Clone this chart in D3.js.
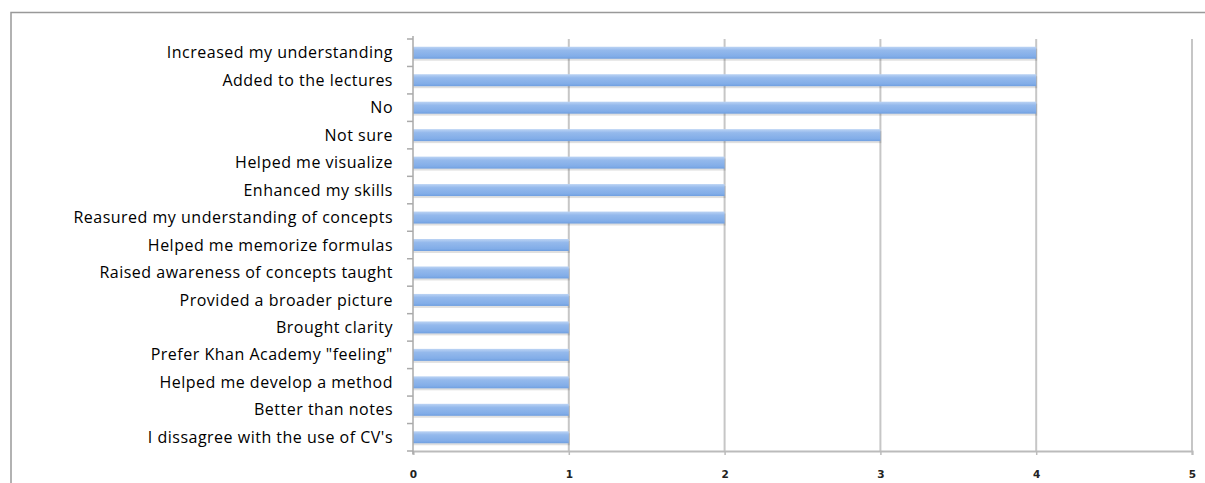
<!DOCTYPE html>
<html>
<head>
<meta charset="utf-8">
<script src="https://cdn.jsdelivr.net/npm/d3@7"></script>
<style>
    body { margin: 0; background: #fff; }
    svg { display: block; }
</style>
</head>
<body>
<div id="chart"></div>
<script>
// answers, top to bottom
const answers = [
    'Increased my understanding',
    'Added to the lectures',
    'No',
    'Not sure',
    'Helped me visualize',
    'Enhanced my skills',
    'Reasured my understanding of concepts',
    'Helped me memorize formulas',
    'Raised awareness of concepts taught',
    'Provided a broader picture',
    'Brought clarity',
    'Prefer Khan Academy "feeling"',
    'Helped me develop a method',
    'Better than notes',
    'I dissagree with the use of CV\'s'
];
const counts = [4, 4, 4, 3, 2, 2, 2, 1, 1, 1, 1, 1, 1, 1, 1];
const xTicks = [0, 1, 2, 3, 4, 5];

const width = 1205;
const height = 483;
let margin = { top: 39, right: 13, bottom: 32, left: 413 };

const svg = d3.select('#chart')
    .append('svg')
    .attr('width', width)
    .attr('height', height);

// frame of the chart area
svg.append('path')
    .attr('d', `M11,${height} L11,12.5 L${width},12.5`)
    .attr('fill', 'none')
    .attr('stroke', '#999')
    .attr('stroke-width', 1.5);

let x = d3.scaleLinear()
    .domain([0, 5])
    .range([margin.left, width - margin.right]);

let y = d3.scaleBand()
    .domain(answers)
    .range([margin.top, height - margin.bottom]);

const defs = svg.append('defs');
const grad = defs.append('linearGradient')
    .attr('id', 'barGrad')
    .attr('x1', 0).attr('y1', 0).attr('x2', 0).attr('y2', 1);
grad.append('stop').attr('offset', '0%').attr('stop-color', '#bcd4f4');
grad.append('stop').attr('offset', '30%').attr('stop-color', '#94b9ec');
grad.append('stop').attr('offset', '80%').attr('stop-color', '#82ade8');
grad.append('stop').attr('offset', '100%').attr('stop-color', '#6f9fe0');

// vertical gridlines
svg.append('g')
    .selectAll('line')
    .data(xTicks.slice(1))
    .enter()
    .append('line')
    .attr('x1', d => x(d))
    .attr('x2', d => x(d))
    .attr('y1', margin.top)
    .attr('y2', height - margin.bottom)
    .attr('stroke', '#c6c6c6')
    .attr('stroke-width', 2);

const barH = 12;

// bar shadows
svg.append('g')
    .selectAll('rect')
    .data(counts)
    .enter()
    .append('rect')
    .attr('x', x(0))
    .attr('y', (d, i) => y(answers[i]) + y.bandwidth() / 2 - barH / 2 + 2)
    .attr('width', d => x(d) - x(0) + 1)
    .attr('height', barH)
    .attr('fill', '#000')
    .attr('opacity', 0.12);

// bars
svg.append('g')
    .selectAll('rect')
    .data(counts)
    .enter()
    .append('rect')
    .attr('x', x(0))
    .attr('y', (d, i) => y(answers[i]) + y.bandwidth() / 2 - barH / 2)
    .attr('width', d => x(d) - x(0))
    .attr('height', barH)
    .attr('fill', 'url(#barGrad)');

// x axis
let xAxis = (g) => g
    .attr('transform', `translate(0,${height - margin.bottom})`)
    .call(d3.axisBottom(x).tickValues(xTicks).tickSize(4).tickPadding(16).tickFormat(d3.format('d')));

const gx = svg.append('g').call(xAxis);
gx.select('.domain').attr('stroke', '#bbb').attr('stroke-width', 2);
gx.selectAll('.tick line').attr('stroke', '#bbb').attr('stroke-width', 1.5);
gx.selectAll('.tick text')
    .attr('fill', '#222')
    .attr('font-family', '"DejaVu Sans", sans-serif')
    .attr('font-weight', 'bold')
    .attr('font-size', '10.5px');

// y axis, ticks between the categories
const gy = svg.append('g');
gy.append('line')
    .attr('x1', x(0)).attr('x2', x(0))
    .attr('y1', margin.top - 3).attr('y2', height - margin.bottom + 3)
    .attr('stroke', '#aaa')
    .attr('stroke-width', 1.5);

gy.selectAll('.ytick')
    .data(answers.concat(['end']))
    .enter()
    .append('line')
    .attr('x1', x(0) - 6)
    .attr('x2', x(0))
    .attr('y1', (d, i) => margin.top + i * y.step())
    .attr('y2', (d, i) => margin.top + i * y.step())
    .attr('stroke', '#aaa')
    .attr('stroke-width', 1.5);

gy.selectAll('text')
    .data(answers)
    .enter()
    .append('text')
    .attr('x', x(0) - 20)
    .attr('y', d => y(d) + y.bandwidth() / 2)
    .attr('dy', '0.35em')
    .attr('text-anchor', 'end')
    .attr('fill', '#000')
    .attr('font-family', '"Open Sans", sans-serif')
    .attr('font-size', '16px')
    .attr('letter-spacing', '0.5px')
    .text(d => d);
</script>
</body>
</html>
